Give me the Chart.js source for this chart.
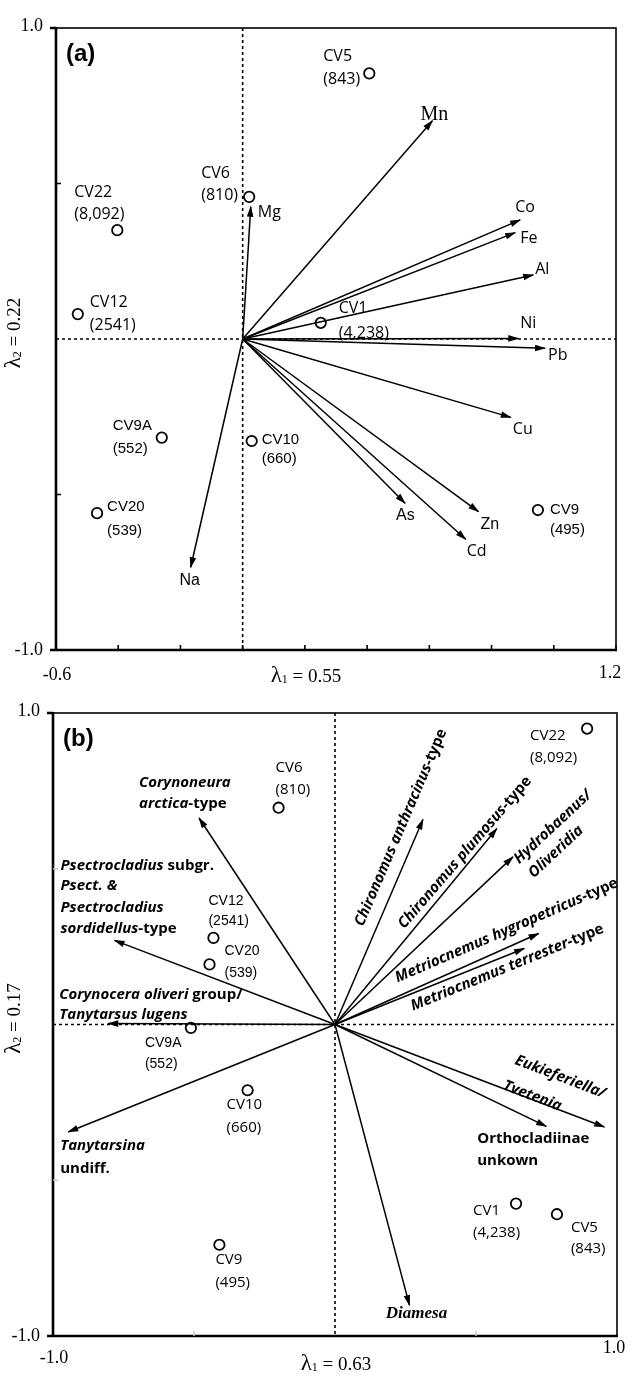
<!DOCTYPE html>
<html>
<head>
<meta charset="utf-8">
<script src="https://cdn.jsdelivr.net/npm/chart.js@4.4.1/dist/chart.umd.min.js"></script>
<style>
    html, body { margin: 0; padding: 0; background: #fff; }
    #contenedor { position: relative; width: 633px; height: 1377px; }
    canvas { position: absolute; left: 0; }
    #graficoA { top: 0; }
    #graficoB { top: 690px; }
</style>
</head>
<body>
<div id="contenedor">
    <canvas id="graficoA" width="633" height="690"></canvas>
    <canvas id="graficoB" width="633" height="687"></canvas>
</div>
<script>
// --- DATOS ---
// Sitios (comunes a ambos paneles)
const sitios = ['CV22', 'CV12', 'CV6', 'CV5', 'CV1', 'CV9A', 'CV10', 'CV20', 'CV9'];
const sitiosN = ['(8,092)', '(2541)', '(810)', '(843)', '(4,238)', '(552)', '(660)', '(539)', '(495)'];

// Panel (a): metales
const sitiosA_x = [-0.403, -0.530, 0.021, 0.407, 0.251, -0.260, 0.029, -0.468, 0.949];
const sitiosA_y = [0.350, 0.080, 0.457, 0.854, 0.052, -0.317, -0.328, -0.560, -0.550];
const metales = ['Mn', 'Co', 'Fe', 'Al', 'Ni', 'Pb', 'Cu', 'As', 'Zn', 'Cd', 'Mg', 'Na'];
const metales_x = [0.610, 0.892, 0.876, 0.934, 0.886, 0.972, 0.862, 0.522, 0.758, 0.717, 0.026, -0.167];
const metales_y = [0.702, 0.383, 0.342, 0.206, 0.002, -0.030, -0.252, -0.528, -0.555, -0.644, 0.425, -0.734];

// Panel (b): quironómidos
const sitiosB_x = [0.894, -0.431, -0.200, 0.787, 0.642, -0.511, -0.310, -0.445, -0.410];
const sitiosB_y = [0.950, 0.278, 0.696, -0.609, -0.575, -0.011, -0.211, 0.193, -0.707];
const taxones = ['Corynoneura arctica-type', 'Psectrocladius subgr. Psect. & Psectrocladius sordidellus-type',
    'Corynocera oliveri group/Tanytarsus lugens', 'Tanytarsina undiff.', 'Chironomus anthracinus-type',
    'Chironomus plumosus-type', 'Hydrobaenus/Oliveridia', 'Metriocnemus hygropetricus-type',
    'Metriocnemus terrester-type', 'Eukieferiella/Tvetenia', 'Orthocladiinae unkown', 'Diamesa'];
const taxones_x = [-0.482, -0.782, -0.804, -0.946, 0.312, 0.574, 0.631, 0.722, 0.671, 0.955, 0.749, 0.264];
const taxones_y = [0.663, 0.270, 0.003, -0.345, 0.658, 0.629, 0.538, 0.292, 0.244, -0.329, -0.327, -0.901];

// Ejes
const ticksA_x = [-0.6, -0.4, -0.2, 0, 0.2, 0.4, 0.6, 0.8, 1.0, 1.2];
const ticksA_y = [-0.5, 0.5];
const ticksB_x = [-0.5, 0.5];
const ticksB_y = [-0.5, 0.5];
const etiquetasA = { xMin: '-0.6', xMax: '1.2', yMin: '-1.0', yMax: '1.0', l1: '0.55', l2: '0.22' };
const etiquetasB = { xMin: '-1.0', xMax: '1.0', yMin: '-1.0', yMax: '1.0', l1: '0.63', l2: '0.17' };

// --- ESTILO DE ETIQUETAS ---
const F_CAL = '16px "Open Sans"';
const F_ARI = '15px "Liberation Sans"';
const F_ARI16 = '16px "Liberation Sans"';
const F_CALb = '15px "Open Sans"';
const F_ARIb = '14px "Liberation Sans"';
const F_TAX = 'bold 15px "Open Sans"';

// desplazamientos en píxeles respecto al punto: [dx, dy1, dy2, fuente]
const posSitiosA = [
    [-43, -33, -11, F_CAL], [12, -7, 16, F_CAL], [-48, -19, 3, F_CAL], [-46, -12, 11, F_CAL],
    [18, -10, 15, F_CAL], [-49, -8, 15, F_ARI], [10, 3, 22, F_ARI], [10, -2, 22, F_ARI], [12, 4, 24, F_ARI]
];
const posMetales = [
    ['center', 2, -1, '20px "Liberation Serif"'], ['left', -5, -8, F_CAL], ['left', 5, 10, F_CAL],
    ['left', 2, -1, F_CAL], ['left', 2, -10, F_CAL], ['left', 3, 12, F_CAL], ['left', 2, 17, F_CAL],
    ['left', -9, 17, F_ARI16], ['left', 2, 17, F_ARI16], ['left', 1, 17, F_CAL], ['left', 7, 10, F_CAL],
    ['center', -1, 18, F_ARI16]
];
const posSitiosB = [
    [-57, 11, 33, F_CALb], [-5, -33, -13, F_ARIb], [-3, -36, -14, F_CALb], [14, 18, 39, F_CALb],
    [-43, 11, 33, F_CALb], [-46, 19, 40, F_ARIb], [-21, 19, 42, F_CALb], [15, -9, 13, F_ARIb], [-4, 19, 42, F_CALb]
];
// texto con *cursiva*; cada línea con su desplazamiento
const posTaxones = [
    { rot: 0, lineas: [['*Corynoneura*', -60, -31], ['*arctica*-type', -60, -10]] },
    { rot: 0, lineas: [['*Psectrocladius* subgr.', -54, -70], ['*Psect. &*', -54, -50],
                       ['*Psectrocladius*', -54, -28], ['*sordidellus*-type', -54, -7]] },
    { rot: 0, lineas: [['*Corynocera oliveri* group/', -49, -25], ['*Tanytarsus lugens*', -49, -5]] },
    { rot: 0, lineas: [['*Tanytarsina*', -8, 18], ['undiff.', -8, 41]] },
    { rot: -66.8, lineas: [['*Chironomus anthracinus*-type', -22, 8]] },
    { rot: -49.2, lineas: [['*Chironomus plumosus*-type', -32, 24]] },
    { rot: -43, lineas: [['*Hydrobaenus/*', 40, -30], ['*Oliveridia*', 43, -5]] },
    { rot: -23.5, lineas: [['*Metriocnemus hygropetricus*-type', -32, -3]] },
    { rot: -22.3, lineas: [['*Metriocnemus terrester*-type', -17, 19]] },
    { rot: 21, lineas: [['*Eukieferiella/*', -44, -50], ['*Tvetenia*', -72, -31]] },
    { rot: 0, lineas: [['Orthocladiinae', -69, 17], ['unkown', -69, 39]] },
    { rot: 0, centro: true, fuente: 'bold 17px "Liberation Serif"', lineas: [['*Diamesa*', 7, 13]] }
];

// --- FUNCIONES DE DIBUJO ---
function textoMixto(ctx, texto, x, y, fuente, alinear) {
    const partes = texto.split('*');
    const fuenteDe = (i) => (i % 2 ? 'italic ' : '') + fuente;
    let total = 0;
    partes.forEach((p, i) => { ctx.font = fuenteDe(i); total += ctx.measureText(p).width; });
    let xx = alinear === 'center' ? x - total / 2 : x;
    ctx.textAlign = 'left';
    partes.forEach((p, i) => {
        ctx.font = fuenteDe(i);
        ctx.fillText(p, xx, y);
        xx += ctx.measureText(p).width;
    });
}

function punta(ctx, xa, ya, xb, yb) {
    const ang = Math.atan2(yb - ya, xb - xa);
    ctx.save();
    ctx.translate(xb, yb);
    ctx.rotate(ang);
    ctx.beginPath();
    ctx.moveTo(1, 0);
    ctx.lineTo(-10, -3.3);
    ctx.lineTo(-10, 3.3);
    ctx.closePath();
    ctx.fill();
    ctx.restore();
}

function lambda(ctx, x, y, sub, valor, rot) {
    ctx.save();
    ctx.translate(x, y);
    if (rot) ctx.rotate(rot);
    ctx.fillStyle = '#000';
    ctx.textAlign = 'left';
    ctx.textBaseline = 'alphabetic';
    const f1 = '23px "Liberation Serif"', f2 = '12px "Liberation Serif"', f3 = '19px "Liberation Serif"';
    const resto = ' = ' + valor;
    ctx.font = f1; const w1 = ctx.measureText('λ').width;
    ctx.font = f2; const w2 = ctx.measureText(sub).width;
    ctx.font = f3; const w3 = ctx.measureText(resto).width;
    let xx = -(w1 + w2 + w3) / 2;
    ctx.font = f1; ctx.fillText('λ', xx, 0); xx += w1;
    ctx.font = f2; ctx.fillText(sub, xx, 1); xx += w2;
    ctx.font = f3; ctx.fillText(resto, xx, 0);
    ctx.restore();
}

function marco(chart, cfg) {
    const { ctx, chartArea: { left, right, top, bottom }, scales: { x, y } } = chart;
    ctx.save();
    ctx.strokeStyle = '#000';
    ctx.lineWidth = 1.6;
    ctx.strokeRect(left, top, right - left, bottom - top);
    ctx.lineWidth = 2.6;
    ctx.beginPath();
    ctx.moveTo(left, top - 1); ctx.lineTo(left, bottom); ctx.lineTo(right + 1, bottom);
    // marcas exteriores de las esquinas
    ctx.moveTo(left - 6, top); ctx.lineTo(left, top);
    ctx.moveTo(left - 6, bottom); ctx.lineTo(left, bottom);
    ctx.stroke();

    ctx.strokeStyle = cfg.colorTick;
    ctx.lineWidth = 1.6;
    ctx.beginPath();
    cfg.ticksX.forEach(v => {
        const px = x.getPixelForValue(v);
        ctx.moveTo(px, bottom); ctx.lineTo(px, bottom - 5);
    });
    cfg.ticksY.forEach(v => {
        const py = y.getPixelForValue(v);
        ctx.moveTo(left, py); ctx.lineTo(left + 5, py);
    });
    ctx.stroke();

    ctx.fillStyle = '#000';
    ctx.font = '18px "Liberation Serif"';
    ctx.textBaseline = 'alphabetic';
    ctx.textAlign = 'right';
    ctx.fillText(cfg.etq.yMax, left - 13, top + 3);
    ctx.fillText(cfg.etq.yMin, left - 13, bottom + 5);
    ctx.textAlign = 'center';
    ctx.fillText(cfg.etq.xMin, left + 1, bottom + cfg.yEtqX);
    ctx.fillText(cfg.etq.xMax, right + cfg.dxEtqXMax, bottom + cfg.yEtqXMax);
    lambda(ctx, left + cfg.xL1, bottom + cfg.yL1, '1', cfg.etq.l1, 0);
    lambda(ctx, 20, (top + bottom) / 2 - 6, '2', cfg.etq.l2, -Math.PI / 2);

    ctx.font = 'bold 24px "Liberation Sans"';
    ctx.textAlign = 'left';
    ctx.fillText(cfg.letra, left + 10, top + 33);
    ctx.restore();
}

function ejesCero(chart) {
    const { ctx, chartArea: { left, right, top, bottom }, scales: { x, y } } = chart;
    const x0 = x.getPixelForValue(0), y0 = y.getPixelForValue(0);
    ctx.save();
    ctx.strokeStyle = '#000';
    ctx.lineWidth = 1.6;
    ctx.setLineDash([3, 3]);
    ctx.beginPath();
    ctx.moveTo(x0, top); ctx.lineTo(x0, bottom);
    ctx.moveTo(left, y0); ctx.lineTo(right, y0);
    ctx.stroke();
    ctx.restore();
}

function dibujarPuntas(chart, n) {
    const { ctx } = chart;
    ctx.save();
    ctx.fillStyle = '#000';
    for (let i = 0; i < n; i++) {
        const meta = chart.getDatasetMeta(i);
        const a = meta.data[0], b = meta.data[1];
        punta(ctx, a.x, a.y, b.x, b.y);
    }
    ctx.restore();
}

function etiquetasSitios(chart, idx, pos) {
    const { ctx } = chart;
    const meta = chart.getDatasetMeta(idx);
    ctx.save();
    ctx.fillStyle = '#000';
    ctx.textAlign = 'left';
    ctx.textBaseline = 'alphabetic';
    meta.data.forEach((p, i) => {
        const [dx, dy1, dy2, fuente] = pos[i];
        ctx.font = fuente;
        ctx.fillText(sitios[i], p.x + dx, p.y + dy1);
        ctx.fillText(sitiosN[i], p.x + dx, p.y + dy2);
    });
    ctx.restore();
}

function datosFlechas(nombres, xs, ys) {
    return nombres.map((n, i) => ({
        label: n,
        data: [{ x: 0, y: 0 }, { x: xs[i], y: ys[i] }],
        showLine: true,
        borderColor: '#000',
        borderWidth: 1.5,
        pointRadius: 0,
        fill: false
    }));
}

function datosSitios(xs, ys) {
    return {
        label: 'sitios',
        data: sitios.map((s, i) => ({ x: xs[i], y: ys[i] })),
        showLine: false,
        pointStyle: 'circle',
        pointRadius: 5.2,
        borderWidth: 1.8,
        borderColor: '#000',
        backgroundColor: 'rgba(0,0,0,0)'
    };
}

function opciones(padding, xMin, xMax) {
    return {
        responsive: false,
        animation: false,
        layout: { padding: padding },
        plugins: { legend: { display: false }, tooltip: { enabled: false } },
        scales: {
            x: { type: 'linear', min: xMin, max: xMax, display: false },
            y: { type: 'linear', min: -1, max: 1, display: false }
        }
    };
}

// --- PANEL (a) ---
const pluginA = {
    id: 'panelA',
    beforeDatasetsDraw: (chart) => ejesCero(chart),
    afterDatasetsDraw: (chart) => {
        const { ctx } = chart;
        dibujarPuntas(chart, metales.length);
        marco(chart, {
            ticksX: ticksA_x, ticksY: ticksA_y, colorTick: '#000', etq: etiquetasA, letra: '(a)',
            yEtqX: 30, dxEtqXMax: -6, yEtqXMax: 28, xL1: 250, yL1: 32
        });
        etiquetasSitios(chart, metales.length, posSitiosA);
        ctx.save();
        ctx.fillStyle = '#000';
        ctx.textBaseline = 'alphabetic';
        metales.forEach((m, i) => {
            const p = chart.getDatasetMeta(i).data[1];
            const [al, dx, dy, fuente] = posMetales[i];
            ctx.font = fuente;
            ctx.textAlign = al;
            ctx.fillText(m, p.x + dx, p.y + dy);
        });
        ctx.restore();
    }
};

new Chart(document.getElementById('graficoA').getContext('2d'), {
    type: 'scatter',
    data: { datasets: [...datosFlechas(metales, metales_x, metales_y), datosSitios(sitiosA_x, sitiosA_y)] },
    plugins: [pluginA],
    options: opciones({ left: 56, right: 17, top: 28, bottom: 40 }, -0.6, 1.2)
});

// --- PANEL (b) ---
const pluginB = {
    id: 'panelB',
    beforeDatasetsDraw: (chart) => ejesCero(chart),
    afterDatasetsDraw: (chart) => {
        const { ctx } = chart;
        dibujarPuntas(chart, taxones.length);
        marco(chart, {
            ticksX: ticksB_x, ticksY: ticksB_y, colorTick: '#c8c8c8', etq: etiquetasB, letra: '(b)',
            yEtqX: 27, dxEtqXMax: -3, yEtqXMax: 17, xL1: 283, yL1: 34
        });
        etiquetasSitios(chart, taxones.length, posSitiosB);
        ctx.save();
        ctx.fillStyle = '#000';
        taxones.forEach((t, i) => {
            const p = chart.getDatasetMeta(i).data[1];
            const cfg = posTaxones[i];
            const fuente = cfg.fuente || F_TAX;
            cfg.lineas.forEach(([txt, dx, dy]) => {
                if (cfg.rot) {
                    ctx.save();
                    ctx.translate(p.x + dx, p.y + dy);
                    ctx.rotate(cfg.rot * Math.PI / 180);
                    ctx.textBaseline = 'middle';
                    textoMixto(ctx, txt, 0, 0, fuente, 'center');
                    ctx.restore();
                } else {
                    ctx.textBaseline = 'alphabetic';
                    textoMixto(ctx, txt, p.x + dx, p.y + dy, fuente, cfg.centro ? 'center' : 'left');
                }
            });
        });
        ctx.restore();
    }
};

new Chart(document.getElementById('graficoB').getContext('2d'), {
    type: 'scatter',
    data: { datasets: [...datosFlechas(taxones, taxones_x, taxones_y), datosSitios(sitiosB_x, sitiosB_y)] },
    plugins: [pluginB],
    options: opciones({ left: 53, right: 16, top: 23, bottom: 41 }, -1, 1)
});
</script>
</body>
</html>
